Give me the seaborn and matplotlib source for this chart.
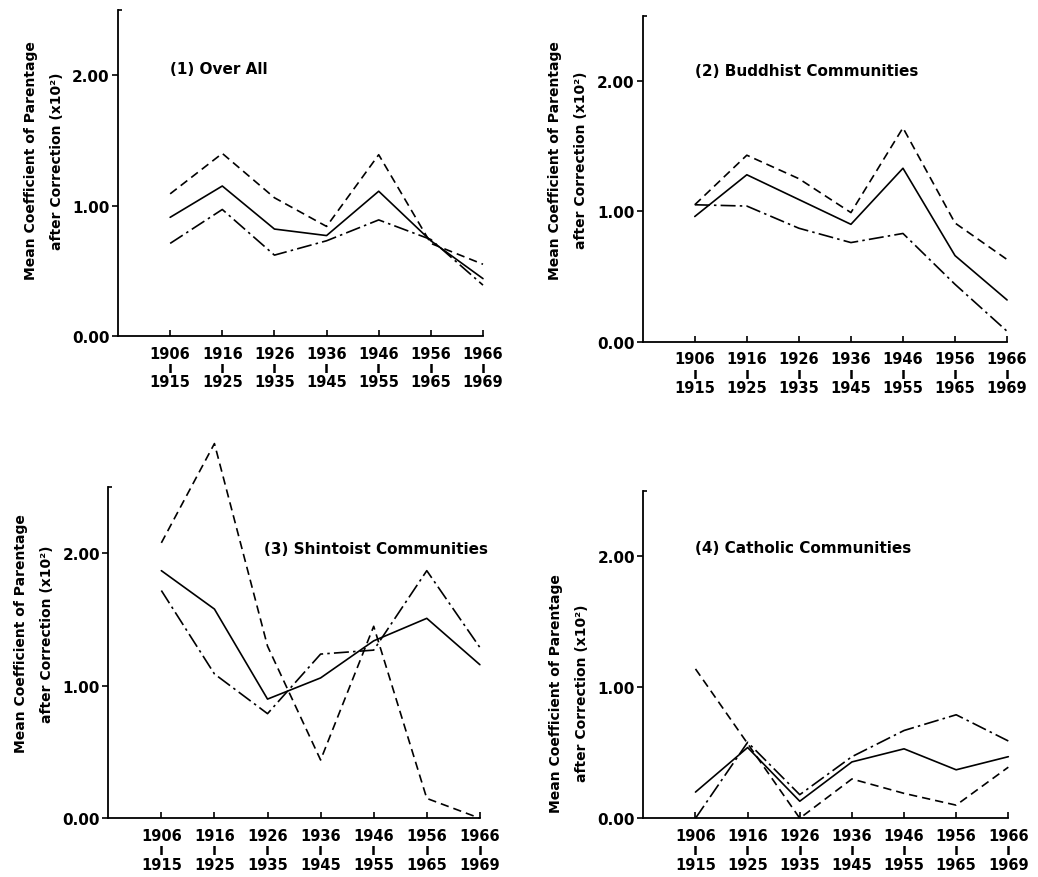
import matplotlib
matplotlib.use("Agg")
import matplotlib.pyplot as plt
import pandas as pd
import seaborn as sns

# periods (start / end year of each interval)
period_start = [1906, 1916, 1926, 1936, 1946, 1956, 1966]
period_end = [1915, 1925, 1935, 1945, 1955, 1965, 1969]

# (1) Over All
over_all_solid = [0.91, 1.15, 0.82, 0.77, 1.11, 0.73, 0.44]
over_all_dashed = [1.09, 1.40, 1.06, 0.84, 1.39, 0.71, 0.55]
over_all_dashdot = [0.71, 0.97, 0.62, 0.73, 0.89, 0.74, 0.39]

# (2) Buddhist Communities
buddhist_solid = [0.96, 1.28, 1.09, 0.90, 1.33, 0.66, 0.32]
buddhist_dashed = [1.05, 1.43, 1.25, 0.99, 1.64, 0.91, 0.63]
buddhist_dashdot = [1.05, 1.04, 0.87, 0.76, 0.83, 0.44, 0.08]

# (3) Shintoist Communities
shinto_solid = [1.87, 1.58, 0.90, 1.06, 1.34, 1.51, 1.16]
shinto_dashed = [2.08, 2.83, 1.30, 0.44, 1.45, 0.15, 0.00]
shinto_dashdot = [1.72, 1.09, 0.79, 1.24, 1.27, 1.87, 1.29]

# (4) Catholic Communities
catholic_solid = [0.20, 0.54, 0.13, 0.43, 0.53, 0.37, 0.47]
catholic_dashed = [1.14, 0.57, 0.00, 0.30, 0.19, 0.10, 0.39]
catholic_dashdot = [0.00, 0.58, 0.18, 0.47, 0.67, 0.79, 0.59]

titles = ["(1) Over All", "(2) Buddhist Communities",
          "(3) Shintoist Communities", "(4) Catholic Communities"]
series = [
    (over_all_solid, over_all_dashed, over_all_dashdot),
    (buddhist_solid, buddhist_dashed, buddhist_dashdot),
    (shinto_solid, shinto_dashed, shinto_dashdot),
    (catholic_solid, catholic_dashed, catholic_dashdot),
]


def main():
    sns.set_style("ticks")
    plt.rcParams['font.family'] = ['DejaVu Sans']
    plt.rcParams['font.weight'] = 'bold'
    plt.rcParams['axes.labelweight'] = 'bold'
    for key in ('text.color', 'axes.labelcolor', 'xtick.color',
                'ytick.color', 'axes.edgecolor'):
        plt.rcParams[key] = 'black'

    fig = plt.figure(figsize=(10.38, 8.78), dpi=100)
    boxes = [
        [0.1137, 0.6162, 0.3516, 0.3713],
        [0.6192, 0.6097, 0.3510, 0.3713],
        [0.1043, 0.0669, 0.3580, 0.3770],
        [0.6198, 0.0669, 0.3516, 0.3730],
    ]
    title_pos = [(0.0, 2.05), (0.0, 2.08), (1.94, 2.04), (0.0, 2.07)]
    label_y = [0.54, 0.56, 0.56, 0.385]

    tick_labels = [f"{a}\nı\n{b}" for a, b in zip(period_start, period_end)]
    styles = {"solid": "", "dashed": (5, 3), "dashdot": (9, 2.5, 1.5, 2.5)}

    for i, (box, (s, d, dd)) in enumerate(zip(boxes, series)):
        ax = fig.add_axes(box)
        df = pd.DataFrame({
            "period": list(range(7)) * 3,
            "value": s + d + dd,
            "line": ["solid"] * 7 + ["dashed"] * 7 + ["dashdot"] * 7,
        })
        sns.lineplot(data=df, x="period", y="value", style="line",
                     dashes=styles, color="black", linewidth=1.2,
                     legend=False, ax=ax, clip_on=False)
        ax.set_xlim(-1, 6)
        ax.set_ylim(0, 2.5)
        ax.set_xticks(range(7))
        ax.set_xticklabels(tick_labels, fontsize=10.5, linespacing=0.95)
        ax.set_yticks([0, 1, 2])
        ax.set_yticklabels(["0.00", "1.00", "2.00"], fontsize=11)
        ax.set_yticks([2.5], minor=True)
        ax.tick_params(axis="x", direction="in", length=4, width=1.2, pad=7)
        ax.tick_params(axis="y", which="major", direction="out", length=4, width=1.2, pad=2)
        ax.tick_params(axis="y", which="minor", direction="in", length=3, width=1.2)
        for side in ("top", "right"):
            ax.spines[side].set_visible(False)
        for side in ("left", "bottom"):
            ax.spines[side].set_linewidth(1.3)
        ax.set_xlabel("")
        ax.set_ylabel("Mean Coefficient of Parentage\nafter Correction (x10²)",
                      fontsize=10, linespacing=2.1, labelpad=6)
        ax.yaxis.label.set_y(label_y[i])
        tx, ty = title_pos[i]
        ax.text(tx, ty, titles[i], fontsize=11, va="center", ha="left")

    fig.savefig("out.png", dpi=100)


if __name__ == "__main__":
    main()
